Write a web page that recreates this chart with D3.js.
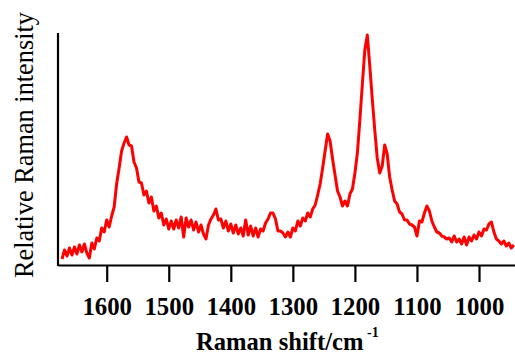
<!DOCTYPE html>
<html>
<head>
<meta charset="utf-8">
<script src="https://cdn.jsdelivr.net/npm/d3@7"></script>
</head>
<body style="margin:0">
<svg id="chart" width="515" height="354" font-family="Liberation Serif"></svg>
<script>
// Raman shift (cm^-1) sampling positions
const ramanShift = [
  1672,1668,1664,1660,1656,1652,1648,1644,1640,1636,
  1632,1628,1624,1620,1616,1612,1608,1604,1600,1596,
  1592,1588,1584,1580,1576,1572,1568,1564,1560,1556,
  1552,1548,1544,1540,1536,1532,1528,1524,1520,1516,
  1512,1508,1504,1500,1496,1492,1488,1484,1480,1476,
  1472,1468,1464,1460,1456,1452,1448,1444,1440,1436,
  1432,1428,1424,1420,1416,1412,1408,1404,1400,1396,
  1392,1388,1384,1380,1376,1372,1368,1364,1360,1356,
  1352,1348,1344,1340,1336,1332,1328,1324,1320,1316,
  1312,1308,1304,1300,1296,1292,1288,1284,1280,1276,
  1272,1268,1264,1260,1256,1252,1248,1244,1240,1236,
  1232,1228,1224,1220,1216,1212,1208,1204,1200,1196,
  1192,1188,1184,1180,1176,1172,1168,1164,1160,1156,
  1152,1148,1144,1140,1136,1132,1128,1124,1120,1116,
  1112,1108,1104,1100,1096,1092,1088,1084,1080,1076,
  1072,1068,1064,1060,1056,1052,1048,1044,1040,1036,
  1032,1028,1024,1020,1016,1012,1008,1004,1000,996,
  992,988,984,980,976,972,968,964,960,956,
  952,948,944
];

// Relative Raman intensity (arbitrary units)
const intensity = [
  6,15,9,17,10,18,11,20,13,21,
  12,7,22,16,27,24,37,33,45,38,
  49,58,81,97,114,122,128,120,119,103,
  97,83,82,70,74,62,68,54,59,47,
  52,40,46,36,44,36,45,37,48,28,
  47,38,45,35,43,33,40,31,26,40,
  46,50,56,45,46,37,44,34,41,32,
  40,31,37,29,45,30,39,29,37,28,
  36,34,42,46,52,52,46,34,34,32,
  28,33,28,37,34,44,39,47,44,52,
  48,56,60,70,81,97,114,131,124,106,
  90,74,68,59,64,59,71,76,92,112,
  145,181,215,230,199,166,135,107,92,99,
  120,111,88,75,64,61,53,51,45,45,
  41,40,38,29,44,43,52,59,54,44,
  38,33,32,29,28,26,27,23,29,23,
  26,21,28,20,28,24,30,26,33,29,
  36,35,41,43,33,26,24,21,24,19,
  22,17,20
];

const xTickValues = [1600, 1500, 1400, 1300, 1200, 1100, 1000];
const xTitle = "Raman shift/cm";
const xTitleSup = "-1";
const yTitle = "Relative Raman intensity";

const svg = d3.select("#chart");
const serif = "Liberation Serif";

const x = d3.scaleLinear().domain([1678.5, 942]).range([58, 515]);
const y = d3.scaleLinear().domain([0, 232]).range([265, 33]);

const data = ramanShift.map((v, i) => ({ v, h: intensity[i] }));

// spectrum
svg.append("path")
  .datum(data)
  .attr("fill", "none")
  .attr("stroke", "#ff0000")
  .attr("stroke-width", 3)
  .attr("stroke-linejoin", "round")
  .attr("d", d3.line().x(d => x(d.v)).y(d => y(d.h)));

// y axis line (no ticks)
svg.append("line")
  .attr("x1", 58).attr("x2", 58)
  .attr("y1", y.range()[1]).attr("y2", y.range()[0] + 1)
  .attr("stroke", "#000").attr("stroke-width", 2.2);

// x axis
const xAxis = d3.axisBottom(x)
  .tickValues(xTickValues)
  .tickSize(17)
  .tickSizeOuter(0)
  .tickFormat(d3.format("d"));

const gx = svg.append("g")
  .attr("transform", `translate(0,${y(0)})`)
  .call(xAxis)
  .attr("font-family", serif)
  .attr("font-size", 24.8)
  .attr("font-weight", "bold");

gx.select(".domain").attr("stroke", "#000").attr("stroke-width", 2.2);
gx.selectAll(".tick line").attr("stroke", "#000").attr("stroke-width", 2.2);
gx.selectAll(".tick text")
  .attr("y", 50)
  .attr("dy", null)
  .attr("fill", "#000");

// x title
svg.append("text")
  .attr("x", 196)
  .attr("y", 350)
  .attr("font-family", serif)
  .attr("font-weight", "bold")
  .attr("font-size", 24.6)
  .attr("fill", "#000")
  .text(xTitle);

svg.append("text")
  .attr("x", 367)
  .attr("y", 337)
  .attr("font-family", serif)
  .attr("font-weight", "bold")
  .attr("font-size", 14)
  .attr("fill", "#000")
  .text(xTitleSup);

// y title
svg.append("text")
  .attr("transform", "translate(33,145) rotate(-90)")
  .attr("text-anchor", "middle")
  .attr("font-family", serif)
  .attr("font-size", 26.3)
  .attr("fill", "#000")
  .text(yTitle);
</script>
</body>
</html>
